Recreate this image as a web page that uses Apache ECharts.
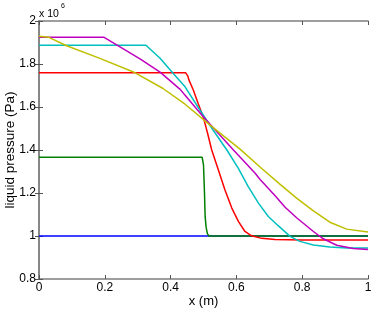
<!DOCTYPE html>
<html><head><meta charset="utf-8">
<script src="https://cdn.jsdelivr.net/npm/echarts@6/dist/echarts.min.js"></script>
<style>html,body{margin:0;padding:0;background:#fff}#c{width:374px;height:311px}</style>
</head><body><div id="c"></div>
<script>
// values in units of 10^6 Pa
const xTicks = [0, 0.2, 0.4, 0.6, 0.8, 1];
const yTicks = [0.8, 1, 1.2, 1.4, 1.6, 1.8, 2];

const blueX = [0, 1];
const blueY = [1, 1];

const greenX = [0, 0.496, 0.500, 0.503, 0.505, 0.508, 0.512, 0.517, 0.53, 1];
const greenY = [1.366, 1.366, 1.33, 1.2, 1.09, 1.04, 1.01, 1.0, 1.0, 1.0];

const redX = [0, 0.446, 0.452, 0.456, 0.469, 0.484, 0.499, 0.512, 0.525, 0.545, 0.565, 0.586, 0.606, 0.626, 0.646, 0.677, 0.717, 0.8, 1];
const redY = [1.759, 1.759, 1.745, 1.725, 1.679, 1.615, 1.555, 1.48, 1.40, 1.308, 1.215, 1.130, 1.068, 1.021, 1.001, 0.989, 0.984, 0.981, 0.981];

const cyanX = [0, 0.325, 0.368, 0.408, 0.444, 0.489, 0.529, 0.571, 0.606, 0.636, 0.667, 0.697, 0.727, 0.763, 0.793, 0.834, 0.884, 0.935, 1];
const cyanY = [1.887, 1.887, 1.827, 1.756, 1.694, 1.586, 1.493, 1.40, 1.315, 1.230, 1.153, 1.091, 1.048, 0.998, 0.975, 0.958, 0.949, 0.944, 0.944];

const magentaX = [0, 0.198, 0.25, 0.307, 0.368, 0.429, 0.444, 0.5, 0.591, 0.611, 0.657, 0.672, 0.717, 0.748, 0.783, 0.834, 0.864, 0.905, 0.955, 1];
const magentaY = [1.924, 1.924, 1.876, 1.824, 1.762, 1.682, 1.655, 1.554, 1.40, 1.367, 1.292, 1.263, 1.188, 1.134, 1.085, 1.021, 0.987, 0.957, 0.942, 0.937];

const yellowX = [0, 0.030, 0.084, 0.185, 0.287, 0.377, 0.444, 0.520, 0.611, 0.677, 0.733, 0.783, 0.834, 0.884, 0.935, 1];
const yellowY = [1.929, 1.924, 1.885, 1.826, 1.763, 1.686, 1.613, 1.516, 1.404, 1.314, 1.240, 1.176, 1.117, 1.064, 1.032, 1.019];

function pts(xs, ys) { return xs.map((x, i) => [x, ys[i]]); }

const seriesDefs = [
  { name: 'blue', xs: blueX, ys: blueY, color: '#0000ff' },
  { name: 'green', xs: greenX, ys: greenY, color: '#008000' },
  { name: 'red', xs: redX, ys: redY, color: '#ff0000' },
  { name: 'cyan', xs: cyanX, ys: cyanY, color: '#00bfbf' },
  { name: 'magenta', xs: magentaX, ys: magentaY, color: '#bf00bf' },
  { name: 'yellow', xs: yellowX, ys: yellowY, color: '#bfbf00' }
];

const font = 'Liberation Sans, Arial, Helvetica, sans-serif';
const axisColor = '#7f7f7f';

const chart = echarts.init(document.getElementById('c'), null, { renderer: 'canvas' });
const fmt = v => String(Math.round(v * 10) / 10);
chart.setOption({
  animation: false,
  grid: { left: 39, right: 6, top: 21, bottom: 32, containLabel: false, outerBoundsMode: 'none' },
  xAxis: [
    { type: 'value', min: xTicks[0], max: xTicks[xTicks.length - 1], interval: 0.2, position: 'bottom',
      name: 'x (m)', nameLocation: 'middle', nameGap: 16, nameMoveOverlap: false,
      nameTextStyle: { fontFamily: font, fontSize: 13, color: '#000' },
      axisLine: { show: true, lineStyle: { color: axisColor, width: 1.5 } },
      axisTick: { show: true, inside: true, length: 4, lineStyle: { color: '#555', width: 1 } },
      axisLabel: { fontFamily: font, fontSize: 12, color: '#000', margin: 3, formatter: fmt },
      splitLine: { show: false } },
    { type: 'value', min: 0, max: 1, interval: 0.2, position: 'top',
      axisLine: { show: true, lineStyle: { color: axisColor, width: 1.5 } },
      axisTick: { show: true, inside: true, length: 4, lineStyle: { color: '#555', width: 1 } },
      axisLabel: { show: false }, splitLine: { show: false } }
  ],
  yAxis: [
    { type: 'value', min: yTicks[0], max: yTicks[yTicks.length - 1], interval: 0.2, position: 'left',
      name: 'liquid pressure (Pa)', nameLocation: 'middle', nameGap: 22, nameMoveOverlap: false,
      nameTextStyle: { fontFamily: font, fontSize: 13.5, color: '#000' },
      axisLine: { show: true, lineStyle: { color: axisColor, width: 1.5 } },
      axisTick: { show: true, inside: true, length: 4, lineStyle: { color: '#555', width: 1 } },
      axisLabel: { fontFamily: font, fontSize: 12, color: '#000', margin: 3, formatter: fmt },
      splitLine: { show: false } },
    { type: 'value', min: 0.8, max: 2, interval: 0.2, position: 'right',
      axisLine: { show: true, lineStyle: { color: axisColor, width: 1.5 } },
      axisTick: { show: true, inside: true, length: 4, lineStyle: { color: '#555', width: 1 } },
      axisLabel: { show: false }, splitLine: { show: false } }
  ],
  graphic: [
    { type: 'text', left: 39, top: 8.5, style: { text: 'x 10', fontFamily: font, fontSize: 10.5, fill: '#000' } },
    { type: 'text', left: 61, top: 2.5, style: { text: '6', fontFamily: font, fontSize: 7, fill: '#000' } }
  ],
  series: seriesDefs.map(s => ({
    type: 'line', name: s.name, data: pts(s.xs, s.ys), xAxisIndex: 0, yAxisIndex: 0,
    showSymbol: false, symbol: 'none', smooth: false,
    lineStyle: { color: s.color, width: 1.5 }, itemStyle: { color: s.color }
  }))
});
</script></body></html>
